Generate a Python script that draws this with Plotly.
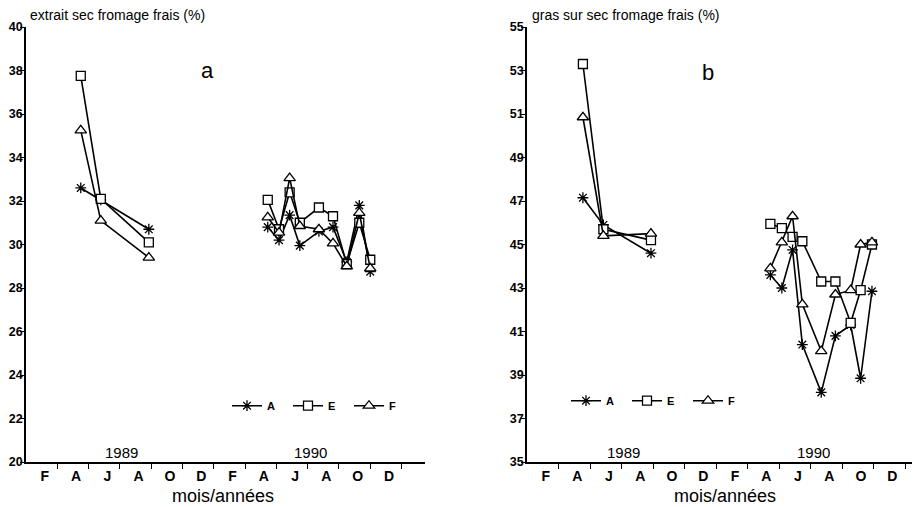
import plotly.graph_objects as go

# ---------------- data ----------------
# x = months counted from 1 Jan 1989 (tick every 2 months)
month_labels = ["F", "A", "J", "A", "O", "D", "F", "A", "J", "A", "O", "D"]
year_labels = ["1989", "1990"]
series_names = ["A", "E", "F"]

# panel a : extrait sec fromage frais (%)
months_a = [3.5, 4.78, 7.85, None, 15.45, 16.17, 16.85, 17.5, 18.72, 19.62, 20.5, 21.3, 22.0]
a_A = [32.6, 32.05, 30.7, None, 30.8, 30.2, 31.35, 29.95, 30.6, 30.8, 29.2, 31.8, 28.75]
a_E = [37.75, 32.1, 30.1, None, 32.05, 30.7, 32.4, 31.0, 31.7, 31.3, 29.1, 31.0, 29.3]
a_F = [35.25, 31.1, 29.4, None, 31.25, 30.55, 33.05, 30.85, 30.7, 30.05, 29.0, 31.45, 28.9]

# panel b : gras sur sec fromage frais (%)
months_b = [3.55, 4.85, 7.87, None, 15.45, 16.18, 16.86, 17.48, 18.68, 19.58, 20.55, 21.18, 21.9]
b_A = [47.15, 45.9, 44.6, None, 43.6, 43.0, 44.75, 40.4, 38.2, 40.8, 41.3, 38.85, 42.85]
b_E = [53.3, 45.7, 45.2, None, 45.95, 45.75, 45.35, 45.15, 43.3, 43.3, 41.4, 42.9, 45.0]
b_F = [50.85, 45.4, 45.5, None, 43.9, 45.1, 46.3, 42.25, 40.1, 42.7, 42.9, 45.0, 45.1]

# ---------------- style ----------------
OFF = 8                       # page body margin
VW, VH = 920, 507             # viewport
W, H = VW - OFF, VH - OFF     # figure size
# plot area in viewport pixels: x 26..920, y 27..462
ML, MT = 26 - OFF, 27 - OFF
MB = H - (462 - OFF)
PW, PH = W - ML, H - MT - MB
FONT = "Liberation Sans, Arial, Helvetica, sans-serif"
marker_style = {
    "A": dict(symbol="asterisk-open", size=9, color="black", line=dict(color="black", width=1.3)),
    "E": dict(symbol="square", size=9, color="white", line=dict(color="black", width=1.3)),
    "F": dict(symbol="triangle-up", size=10, color="white", line=dict(color="black", width=1.3)),
}

def px_x(p):  # viewport px -> paper fraction
    return (p - OFF - ML) / PW

def px_y(p):
    return (H - MB - (p - OFF)) / PH

fig = go.Figure()

def add_series(x, y, name, xa, ya, legend):
    fig.add_trace(go.Scatter(
        x=x, y=y, name=name, mode="lines+markers",
        xaxis=xa, yaxis=ya, legend=legend, connectgaps=False,
        line=dict(color="black", width=1.6),
        marker=marker_style[name],
        hoverinfo="skip",
    ))

for name, ys in zip(series_names, [a_A, a_E, a_F]):
    add_series(months_a, ys, name, "x", "y", "legend")
for name, ys in zip(series_names, [b_A, b_E, b_F]):
    add_series(months_b, ys, name, "x2", "y2", "legend2")

label_pos = [1.2 + 2 * k for k in range(len(month_labels))]
boundaries = [2 * k for k in range(1, 13)]

def xaxis_cfg(domain, rng):
    return dict(
        domain=domain, range=rng, showline=True, linecolor="black", linewidth=1.5,
        showgrid=False, zeroline=False, ticks="", tickmode="array",
        tickvals=label_pos, ticktext=month_labels, automargin=False,
        tickfont=dict(family=FONT, size=14, color="black", weight="bold"),
        minor=dict(tickmode="array", tickvals=boundaries, ticks="outside",
                   ticklen=5, tickwidth=1.2, tickcolor="black", showgrid=False),
        fixedrange=True,
    )

def yaxis_cfg(anchor, rng):
    return dict(
        domain=[0, 1], range=rng, anchor=anchor, showline=True, linecolor="black",
        linewidth=1.5, showgrid=False, zeroline=False, ticks="outside", ticklen=4,
        tickwidth=1.2, tickcolor="black", dtick=2, tick0=rng[0], automargin=False,
        ticklabelstandoff=-5,
        tickfont=dict(family=FONT, size=12.5, color="black", weight="bold"),
        fixedrange=True,
    )

legend_common = dict(orientation="h", xanchor="left", yanchor="middle",
                     bgcolor="rgba(0,0,0,0)", entrywidth=16,
                     font=dict(family=FONT, size=11, color="black", weight="bold"))

fig.update_layout(
    width=W, height=H, autosize=False,
    margin=dict(l=ML, r=0, t=MT, b=MB, pad=0),
    paper_bgcolor="white", plot_bgcolor="white",
    font=dict(family=FONT, color="black"),
    xaxis=xaxis_cfg([px_x(26), px_x(425)], [0, 25.5]),
    yaxis=yaxis_cfg("x", [20, 40]),
    xaxis2=xaxis_cfg([px_x(527), 1.0], [0, 24.95]),
    yaxis2=yaxis_cfg("x2", [35, 55]),
    showlegend=True,
    legend=dict(x=px_x(227), y=px_y(405.7), **legend_common),
    legend2=dict(x=px_x(566), y=px_y(400.7), **legend_common),
)

ann = []
# panel titles
ann.append(dict(text="extrait sec fromage frais (%)", xref="paper", yref="paper",
                x=px_x(28), y=px_y(15), xanchor="left", yanchor="middle",
                showarrow=False, font=dict(family=FONT, size=14, color="black")))
ann.append(dict(text="gras sur sec fromage frais (%)", xref="paper", yref="paper",
                x=px_x(530), y=px_y(15), xanchor="left", yanchor="middle",
                showarrow=False, font=dict(family=FONT, size=14, color="black")))
# panel letters
ann.append(dict(text="a", xref="x", yref="y", x=11.57, y=37.98, showarrow=False,
                xanchor="center", yanchor="middle",
                font=dict(family=FONT, size=22, color="black")))
ann.append(dict(text="b", xref="x2", yref="y2", x=11.5, y=52.9, showarrow=False,
                xanchor="center", yanchor="middle",
                font=dict(family=FONT, size=22, color="black")))
# year labels
for xr, yr, y0 in [("x", "y", 20.45), ("x2", "y2", 35.45)]:
    for lab, xv in zip(year_labels, [6.1, 18.2]):
        ann.append(dict(text=lab, xref=xr, yref=yr, x=xv, y=y0, showarrow=False,
                        xanchor="center", yanchor="middle",
                        font=dict(family=FONT, size=15, color="black")))
# x-axis titles
for cx in (223, 725):
    ann.append(dict(text="mois/années", xref="paper", yref="paper", x=px_x(cx),
                    y=px_y(496), xanchor="center", yanchor="middle", showarrow=False,
                    font=dict(family=FONT, size=18, color="black")))
fig.update_layout(annotations=ann)

fig.write_html("out.html")
